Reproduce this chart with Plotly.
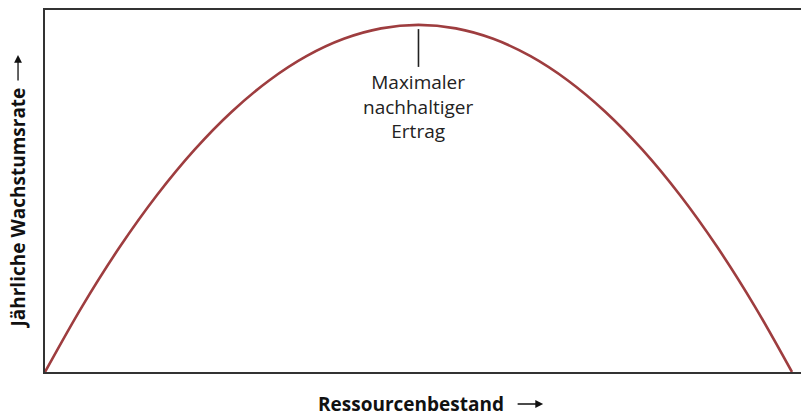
import plotly.graph_objects as go

# Resource stock (x) and annual growth rate (y) (relative units)
stock = [0, 5, 10, 15, 20, 25, 30, 35, 40, 45, 50, 55, 60, 65, 70, 75, 80, 85, 90, 95, 100]
growth = [0, 19, 36, 51, 64, 75, 84, 91, 96, 99, 100, 99, 96, 91, 84, 75, 64, 51, 36, 19, 0]

peak_x = 50
peak_label = "Maximaler<br>nachhaltiger<br>Ertrag"
x_title = "Ressourcenbestand"
y_title = "Jährliche Wachstumsrate"

fig = go.Figure()
fig.add_trace(go.Scatter(
    x=stock, y=growth, mode="lines",
    line=dict(color="#9e3d3f", width=2.6, shape="spline", smoothing=1.0),
    hoverinfo="skip", showlegend=False,
))

# vertical marker below the peak
fig.add_shape(type="line", x0=peak_x, x1=peak_x, y0=98.8, y1=87.9,
              xref="x", yref="y", line=dict(color="#222222", width=1.6))
fig.add_annotation(x=peak_x, y=88.0, xref="x", yref="y", text=peak_label,
                   showarrow=False, yanchor="top", align="center",
                   font=dict(family="Open Sans", size=19, color="#222222"))

# axis titles
fig.add_annotation(x=0.4797, y=-0.0884, xref="paper", yref="paper", text=f"<b>{x_title}</b>",
                   showarrow=False, yanchor="middle", xanchor="center",
                   font=dict(family="Open Sans", size=19, color="#111111"))
fig.add_annotation(x=-0.0353, y=0.4517, xref="paper", yref="paper", text=f"<b>{y_title}</b>",
                   showarrow=False, textangle=-90, xanchor="center", yanchor="middle",
                   font=dict(family="Open Sans", size=19, color="#111111"))
# title arrows
fig.add_annotation(x=0.652, y=-0.0884, xref="paper", yref="paper", text="",
                   showarrow=True, ax=-26, ay=0, arrowhead=2, arrowsize=1.2,
                   arrowwidth=1.3, arrowcolor="#111111", standoff=0,
                   font=dict(size=1), borderpad=0)
fig.add_annotation(x=-0.0353, y=0.8757, xref="paper", yref="paper", text="",
                   showarrow=True, ax=0, ay=26, arrowhead=2, arrowsize=1.2,
                   arrowwidth=1.3, arrowcolor="#111111", standoff=0,
                   font=dict(size=1), borderpad=0)

fig.update_layout(
    width=801, height=405,
    margin=dict(l=37, r=0, t=2, b=41),
    paper_bgcolor="white", plot_bgcolor="white",
    xaxis=dict(range=[0, 102.28], showgrid=False, zeroline=False, showticklabels=False,
               ticks="", showline=True, linecolor="#333333", linewidth=1.6, mirror=True),
    yaxis=dict(range=[0, 104.3], showgrid=False, zeroline=False, showticklabels=False,
               ticks="", showline=True, linecolor="#333333", linewidth=1.6, mirror=False),
)

fig.write_html("out.html")
